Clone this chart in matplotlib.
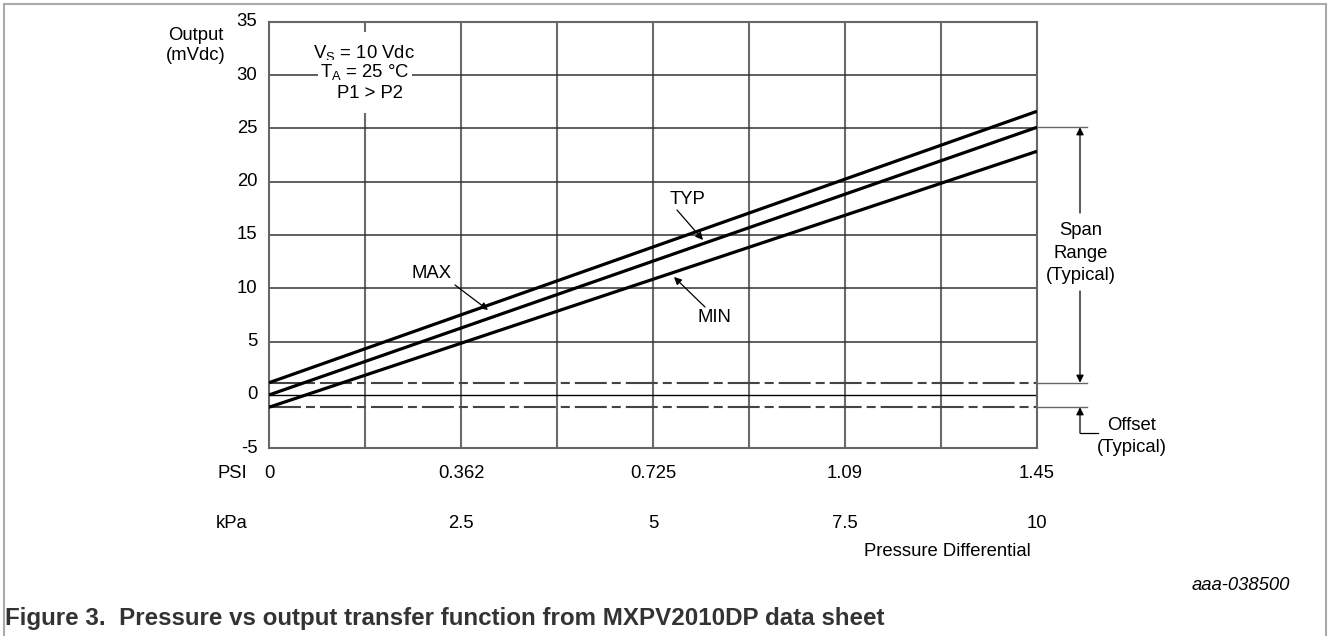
import matplotlib
matplotlib.use("Agg")
import matplotlib.pyplot as plt
from matplotlib.patches import Rectangle
from matplotlib.lines import Line2D

plt.rcParams['font.family'] = ['Liberation Sans', 'DejaVu Sans']
plt.rcParams['mathtext.fontset'] = 'custom'
plt.rcParams['mathtext.rm'] = 'Liberation Sans'

# ---- data ----
kpa = [0, 10]
max_out = [1.15, 26.6]
typ_out = [0.0, 25.1]
min_out = [-1.15, 22.85]
offset_typ = [1.15, -1.15]
y_ticks = [-5, 0, 5, 10, 15, 20, 25, 30, 35]
x_grid = [0, 1.25, 2.5, 3.75, 5, 6.25, 7.5, 8.75, 10]
psi_pos = [0, 2.5, 5, 7.5, 10]
psi_labels = ["0", "0.362", "0.725", "1.09", "1.45"]
kpa_pos = [2.5, 5, 7.5, 10]
kpa_labels = ["2.5", "5", "7.5", "10"]

FS = 13.3
W, H = 1330, 636
fig = plt.figure(figsize=(13.3, 6.36), dpi=100)
L, R, T, B = 269, 1037, 21.7, 448.3
ax = fig.add_axes([L / W, 1 - B / H, (R - L) / W, (B - T) / H])
ax.set_xlim(0, 10)
ax.set_ylim(-5, 35)
ax.set_xticks([])
ax.set_yticks([])
for s in ax.spines.values():
    s.set_color('#666666')
    s.set_linewidth(1.5)


def px(xp, yp_):
    return ((xp - L) / (R - L) * 10, 35 - (yp_ - T) / (B - T) * 40)


# grid
for x in x_grid[1:-1]:
    ax.axvline(x, color='#6a6a6a', lw=1.5, zorder=1)
for y in y_ticks[1:-1]:
    if y == 0:
        ax.axhline(y, color='black', lw=1.0, zorder=1)
    else:
        ax.axhline(y, color='#333333', lw=1.1, zorder=1)

# offset dash-dot lines
lw_d = 1.5
for yv in offset_typ:
    ax.plot([0, 10], [yv, yv], color='#444444', lw=lw_d,
            dashes=[23 / lw_d, 3.6 / lw_d, 6.5 / lw_d, 3.6 / lw_d], zorder=2)

# main lines
for ys in (max_out, typ_out, min_out):
    ax.plot(kpa, ys, color='black', lw=2.3, zorder=4, solid_capstyle='butt')

# y tick labels
for y in y_ticks:
    ax.text(-0.15, y, str(y), ha='right', va='center', fontsize=FS)
fig.text(196 / W, 1 - 35 / H, "Output", ha='center', va='center', fontsize=FS)
fig.text(196 / W, 1 - 55 / H, "(mVdc)", ha='center', va='center', fontsize=FS)

# x tick labels
y_psi = px(0, 473)[1]
y_kpa = px(0, 524)[1]
for p, lab in zip(psi_pos, psi_labels):
    ax.text(p, y_psi, lab, fontsize=FS, ha='center', va='center', clip_on=False)
for p, lab in zip(kpa_pos, kpa_labels):
    ax.text(p, y_kpa, lab, fontsize=FS, ha='center', va='center', clip_on=False)
fig.text(232 / W, 1 - 473 / H, "PSI", ha='center', va='center', fontsize=FS)
fig.text(232 / W, 1 - 524 / H, "kPa", ha='center', va='center', fontsize=FS)
fig.text(947 / W, 1 - 551 / H, "Pressure Differential", ha='center', va='center', fontsize=FS)

# condition text box
ax.add_patch(Rectangle((355 / W, 1 - 113 / H), 20 / W, 81 / H, transform=fig.transFigure,
                       facecolor='white', edgecolor='none', zorder=3))
wbox = dict(facecolor='white', edgecolor='none', pad=1.5)
fig.text(313 / W, 1 - 58 / H, r"V$\mathregular{_S}$ = 10 Vdc", ha='left', va='baseline',
         fontsize=FS, zorder=5, bbox=wbox)
fig.text(320 / W, 1 - 77.5 / H, r"T$\mathregular{_A}$ = 25 °C", ha='left', va='baseline',
         fontsize=FS, zorder=5, bbox=wbox)
fig.text(337 / W, 1 - 98 / H, "P1 > P2", ha='left', va='baseline', fontsize=FS, zorder=5, bbox=wbox)

# annotations with arrows
arrow = dict(arrowstyle='-|>', color='black', lw=0.9, mutation_scale=11, shrinkA=0, shrinkB=0)

ax.annotate("", xy=px(488, 310), xytext=px(455, 285), arrowprops=arrow, zorder=6)
ax.text(*px(432, 274), "MAX", ha='center', va='center', fontsize=FS)
ax.plot(*zip(px(688, 221), px(692, 226)), color='white', lw=4, zorder=5)
ax.annotate("", xy=px(703, 240), xytext=px(677, 210), arrowprops=arrow, zorder=6)
ax.text(*px(687, 199), "TYP", ha='center', va='center', fontsize=FS)
ax.annotate("", xy=px(674, 277), xytext=px(705, 307), arrowprops=arrow, zorder=6)
ax.text(*px(714, 318), "MIN", ha='center', va='center', fontsize=FS)

# span range
xs_arrow = px(1080, 0)[0]
xs_end = px(1087, 0)[0]
for yv in (typ_out[1], offset_typ[0], offset_typ[1]):
    ax.plot([10, xs_end], [yv, yv], color='#666666', lw=1.0, clip_on=False)
ax.annotate("", xy=(xs_arrow, typ_out[1]), xytext=(xs_arrow, px(0, 213)[1]),
            arrowprops=arrow, annotation_clip=False)
ax.annotate("", xy=(xs_arrow, offset_typ[0]), xytext=(xs_arrow, px(0, 291)[1]),
            arrowprops=arrow, annotation_clip=False)
ax.text(*px(1081, 231), "Span", ha='center', va='center', fontsize=FS, clip_on=False)
ax.text(*px(1081, 253), "Range", ha='center', va='center', fontsize=FS, clip_on=False)
ax.text(*px(1081, 275), "(Typical)", ha='center', va='center', fontsize=FS, clip_on=False)

# offset
ax.annotate("", xy=(xs_arrow, offset_typ[1]), xytext=(xs_arrow, px(0, 433)[1]),
            arrowprops=arrow, annotation_clip=False)
ax.plot([xs_arrow, px(1098, 0)[0]], [px(0, 433)[1]] * 2, color='black', lw=0.9, clip_on=False)
ax.text(*px(1132, 426), "Offset", ha='center', va='center', fontsize=FS, clip_on=False)
ax.text(*px(1132, 448), "(Typical)", ha='center', va='center', fontsize=FS, clip_on=False)

# id and caption
fig.text(1290 / W, 1 - 585 / H, "aaa-038500", ha='right', va='center', fontsize=FS, style='italic')
fig.text(5 / W, 1 - 619 / H, "Figure 3.  Pressure vs output transfer function from MXPV2010DP data sheet",
         ha='left', va='center', fontsize=17.4, fontweight='bold', color='#333333')

# outer frame
for (x0, y0, x1, y1) in [(4, 4, 1326, 4), (4, 4, 4, 636), (1326, 4, 1326, 636)]:
    fig.add_artist(Line2D([x0 / W, x1 / W], [1 - y0 / H, 1 - y1 / H], transform=fig.transFigure,
                          color='#aaaaaa', lw=1.5))

fig.savefig("out.png", dpi=100)
